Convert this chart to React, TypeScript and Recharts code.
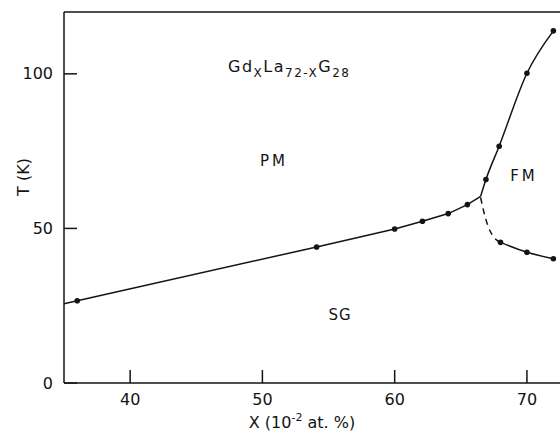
import { ComposedChart, Line, XAxis, YAxis, Customized } from 'recharts';

const xTicks = [40, 50, 60, 70];
const tTicks = [0, 50, 100];

// SG / PM boundary (solid), runs in from the left frame
const sgX = [35, 36, 54.1, 60, 62.1, 64.05, 65.5, 66.5];
const sgT = [25.6, 26.6, 44.0, 49.8, 52.3, 54.8, 57.7, 60.4];
// FM / PM boundary
const fmX = [66.5, 66.9, 67.9, 70.0, 72.0];
const fmT = [60.4, 65.8, 76.6, 100.2, 113.9];
// re-entrant SG branch
const reX = [68.0, 70.0, 72.0];
const reT = [45.5, 42.3, 40.2];
// dashed part
const dashX = [66.5, 66.7, 67.07, 67.45, 67.96];
const dashT = [60.0, 56.1, 50.6, 47.4, 45.5];
// measured points
const ptX = [36, 54.1, 60, 62.1, 64.05, 65.5, 66.9, 67.9, 70.0, 72.0, 68.0, 70.0, 72.0];
const ptT = [26.6, 44.0, 49.8, 52.3, 54.8, 57.7, 65.8, 76.6, 100.2, 113.9, 45.5, 42.3, 40.2];

const zip = (xs: number[], ts: number[]) => xs.map((x, i) => ({ x, t: ts[i] }));

const INK = '#141414';
const FONT = '"DejaVu Sans", sans-serif';
const LEFT = 64;
const BOTTOM = 383;

const YTick = (props: any) => {
  const { y, payload } = props;
  return (
    <g>
      <line x1={LEFT} x2={LEFT + 13} y1={y} y2={y} stroke={INK} strokeWidth={1.5} />
      <text x={53} y={y} textAnchor="end" dominantBaseline="central" fontFamily={FONT} fontSize={16} fill={INK}>
        {payload.value}
      </text>
    </g>
  );
};

const XTick = (props: any) => {
  const { x, payload } = props;
  return (
    <g>
      <line x1={x} x2={x} y1={BOTTOM} y2={BOTTOM - 13} stroke={INK} strokeWidth={1.5} />
      <text x={x} y={405} textAnchor="middle" fontFamily={FONT} fontSize={16} fill={INK}>
        {payload.value}
      </text>
    </g>
  );
};

const Labels = () => (
  <g fontFamily={FONT} fill={INK}>
    <text x={228} y={72} fontSize={16} letterSpacing={1.5}>
      Gd<tspan fontSize={12} dy={5}>X</tspan>
      <tspan dy={-5}>La</tspan>
      <tspan fontSize={12} dy={5}>72-X</tspan>
      <tspan dy={-5}>G</tspan>
      <tspan fontSize={12} dy={5}>28</tspan>
    </text>
    <text x={274} y={161} fontSize={15} letterSpacing={3} textAnchor="middle" dominantBaseline="central">PM</text>
    <text x={524} y={176} fontSize={15} letterSpacing={3} textAnchor="middle" dominantBaseline="central">FM</text>
    <text x={340} y={315} fontSize={15} letterSpacing={1} textAnchor="middle" dominantBaseline="central">SG</text>
    <text x={302} y={428} fontSize={16} textAnchor="middle">
      X (10<tspan fontSize={11} dy={-7}>-2</tspan>
      <tspan dy={7}> at. %)</tspan>
    </text>
    <text x={23} y={177} fontSize={16} textAnchor="middle" dominantBaseline="central" transform="rotate(-90 23 177)">
      T (K)
    </text>
  </g>
);

export default function App() {
  return (
    <div style={{ position: 'absolute', left: 0, top: 0, background: '#fff' }}>
      <ComposedChart width={560} height={433} margin={{ top: 11, right: 0, left: 63, bottom: 49 }}>
        <XAxis
          dataKey="x"
          type="number"
          domain={[35, 72.5]}
          allowDataOverflow
          ticks={xTicks}
          height={1}
          axisLine={{ stroke: INK, strokeWidth: 1.5 }}
          tickLine={false}
          tick={<XTick />}
        />
        <XAxis
          xAxisId="top"
          orientation="top"
          dataKey="x"
          type="number"
          domain={[35, 72.5]}
          height={1}
          tick={false}
          tickLine={false}
          axisLine={{ stroke: INK, strokeWidth: 1.5 }}
        />
        <YAxis
          type="number"
          domain={[0, 120]}
          allowDataOverflow
          ticks={tTicks}
          width={1}
          axisLine={{ stroke: INK, strokeWidth: 1.5 }}
          tickLine={false}
          tick={<YTick />}
        />
        <Line data={zip(sgX, sgT)} dataKey="t" type="linear" stroke={INK} strokeWidth={1.5} dot={false} activeDot={false} isAnimationActive={false} />
        <Line data={zip(fmX, fmT)} dataKey="t" type="monotone" stroke={INK} strokeWidth={1.5} dot={false} activeDot={false} isAnimationActive={false} />
        <Line data={zip(reX, reT)} dataKey="t" type="monotone" stroke={INK} strokeWidth={1.5} dot={false} activeDot={false} isAnimationActive={false} />
        <Line data={zip(dashX, dashT)} dataKey="t" type="monotone" stroke={INK} strokeWidth={1.5} strokeDasharray="6 5" dot={false} activeDot={false} isAnimationActive={false} />
        <Line
          data={zip(ptX, ptT)}
          dataKey="t"
          stroke="none"
          dot={{ r: 2.8, fill: INK, stroke: 'none' }}
          activeDot={false}
          isAnimationActive={false}
        />
        <Customized component={Labels} />
      </ComposedChart>
    </div>
  );
}
